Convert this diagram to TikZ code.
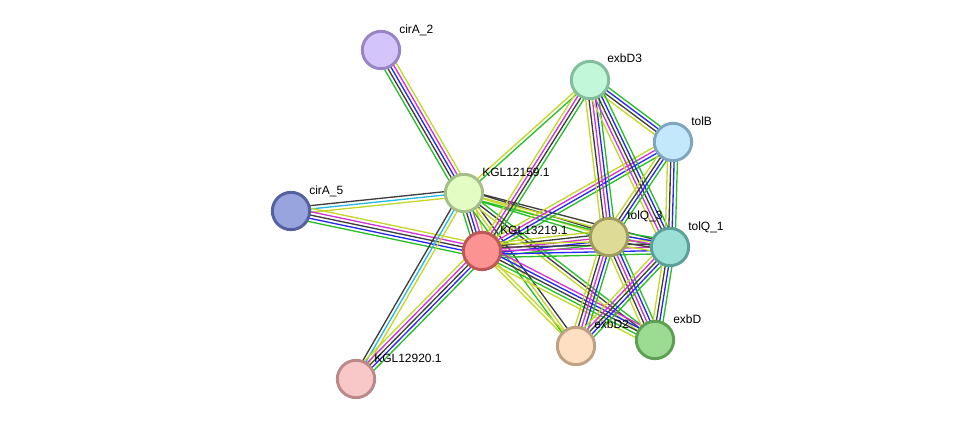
\documentclass[tikz,border=0pt]{standalone}
\usepackage{fontspec}
\setmainfont{Liberation Sans}
\usetikzlibrary{calc,backgrounds}
\definecolor{txtmine}{RGB}{196,214,40}
\definecolor{coexpr}{RGB}{62,62,62}
\definecolor{exper}{RGB}{210,52,210}
\definecolor{cooccur}{RGB}{40,40,240}
\definecolor{neighb}{RGB}{40,190,40}
\definecolor{curated}{RGB}{40,185,225}
\newcommand{\linkset}[4]{%
  \foreach \col [count=\k] in {#4} {
    \pgfmathsetmacro{\off}{(\k-(#3+1)/2)*2.5}
    \draw[linkline,\col] ($(#1)!\off pt!-90:(#2)$) -- ($(#2)!\off pt!90:(#1)$);
  }}

\begin{document}
\begin{tikzpicture}[x=0.75pt,y=-0.75pt]
    \tikzstyle{protein} = [circle,minimum size=28pt,inner sep=0pt,line width=2.2pt]
    \tikzstyle{plabel} = [anchor=base west,font=\fontsize{9}{10}\selectfont,inner sep=0pt]
    \tikzstyle{linkline} = [line width=1pt]
    \useasboundingbox (0,0) rectangle (976,425);
    \node (cirA2)[protein,fill={rgb,255:red,212;green,196;blue,252},draw={rgb,255:red,152;green,132;blue,196}] at (381,50) {};
    \node (exbD3)[protein,fill={rgb,255:red,194;green,247;blue,218},draw={rgb,255:red,130;green,190;blue,156}] at (590,80) {};
    \node (tolB)[protein,fill={rgb,255:red,196;green,232;blue,251},draw={rgb,255:red,127;green,166;blue,190}] at (673,142) {};
    \node (cirA5)[protein,fill={rgb,255:red,152;green,164;blue,222},draw={rgb,255:red,84;green,96;blue,160}] at (291,211) {};
    \node (kgl12159)[protein,fill={rgb,255:red,226;green,252;blue,196},draw={rgb,255:red,164;green,190;blue,136}] at (464,193) {};
    \node (kgl13219)[protein,fill={rgb,255:red,251;green,147;blue,147},draw={rgb,255:red,191;green,87;blue,87}] at (482,251) {};
    \node (tolQ3)[protein,fill={rgb,255:red,222;green,219;blue,151},draw={rgb,255:red,160;green,157;blue,92}] at (609,237) {};
    \node (tolQ1)[protein,fill={rgb,255:red,155;green,223;blue,214},draw={rgb,255:red,92;green,161;blue,152}] at (670,247) {};
    \node (exbD2)[protein,fill={rgb,255:red,254;green,223;blue,193},draw={rgb,255:red,192;green,160;blue,131}] at (576,346) {};
    \node (exbD)[protein,fill={rgb,255:red,156;green,220;blue,146},draw={rgb,255:red,92;green,160;blue,82}] at (655,340) {};
    \node (kgl12920)[protein,fill={rgb,255:red,248;green,199;blue,199},draw={rgb,255:red,186;green,138;blue,138}] at (356,379) {};
    \node (cirA2n)[plabel] at ($(cirA2)+(18,-17)$) {cirA\_2};
    \node (exbD3n)[plabel] at ($(exbD3)+(17,-18)$) {exbD3};
    \node (tolBn)[plabel] at ($(tolB)+(18,-17)$) {tolB};
    \node (cirA5n)[plabel] at ($(cirA5)+(18,-17)$) {cirA\_5};
    \node (kgl12159n)[plabel] at ($(kgl12159)+(18,-17)$) {KGL12159.1};
    \node (kgl13219n)[plabel] at ($(kgl13219)+(18,-17)$) {KGL13219.1};
    \node (tolQ3n)[plabel] at ($(tolQ3)+(18,-18)$) {tolQ\_3};
    \node (tolQ1n)[plabel] at ($(tolQ1)+(18,-17)$) {tolQ\_1};
    \node (exbD2n)[plabel] at ($(exbD2)+(18,-18)$) {exbD2};
    \node (exbDn)[plabel] at ($(exbD)+(18,-17)$) {exbD};
    \node (kgl12920n)[plabel] at ($(kgl12920)+(18,-17)$) {KGL12920.1};
    \begin{pgfonlayer}{background}
    \linkset{cirA2}{kgl12159}{5}{txtmine,exper,cooccur,coexpr,neighb}
    \linkset{cirA5}{kgl12159}{3}{coexpr,curated,txtmine}
    \linkset{cirA5}{kgl13219}{5}{txtmine,exper,coexpr,cooccur,neighb}
    \linkset{kgl12920}{kgl12159}{3}{coexpr,curated,txtmine}
    \linkset{kgl12920}{kgl13219}{5}{txtmine,exper,coexpr,cooccur,neighb}
    \linkset{kgl12159}{kgl13219}{5}{txtmine,exper,cooccur,coexpr,neighb}
    \linkset{kgl12159}{exbD3}{2}{txtmine,neighb}
    \linkset{kgl12159}{tolQ3}{3}{coexpr,txtmine,neighb}
    \linkset{kgl12159}{tolQ1}{3}{coexpr,txtmine,neighb}
    \linkset{kgl12159}{exbD2}{3}{coexpr,txtmine,neighb}
    \linkset{kgl12159}{exbD}{3}{neighb,coexpr,txtmine}
    \linkset{kgl13219}{exbD3}{4}{txtmine,exper,coexpr,neighb}
    \linkset{kgl13219}{tolB}{4}{txtmine,exper,cooccur,neighb}
    \linkset{kgl13219}{tolQ3}{5}{txtmine,coexpr,exper,cooccur,neighb}
    \linkset{kgl13219}{tolQ1}{5}{txtmine,coexpr,exper,cooccur,neighb}
    \linkset{kgl13219}{exbD2}{2}{txtmine,txtmine}
    \linkset{kgl13219}{exbD}{5}{exper,cooccur,coexpr,neighb,txtmine}
    \linkset{exbD3}{tolB}{4}{neighb,cooccur,coexpr,txtmine}
    \linkset{exbD3}{tolQ3}{5}{neighb,cooccur,exper,coexpr,txtmine}
    \linkset{exbD3}{tolQ1}{5}{neighb,cooccur,coexpr,exper,txtmine}
    \linkset{tolB}{tolQ3}{4}{neighb,cooccur,coexpr,txtmine}
    \linkset{tolB}{tolQ1}{4}{neighb,cooccur,coexpr,txtmine}
    \linkset{tolQ3}{tolQ1}{5}{neighb,cooccur,exper,coexpr,txtmine}
    \linkset{tolQ3}{exbD2}{5}{neighb,cooccur,exper,coexpr,txtmine}
    \linkset{tolQ3}{exbD}{5}{neighb,cooccur,exper,coexpr,txtmine}
    \linkset{tolQ1}{exbD2}{5}{neighb,cooccur,coexpr,exper,txtmine}
    \linkset{tolQ1}{exbD}{4}{neighb,cooccur,coexpr,txtmine}
    \end{pgfonlayer}
\end{tikzpicture}
\end{document}
